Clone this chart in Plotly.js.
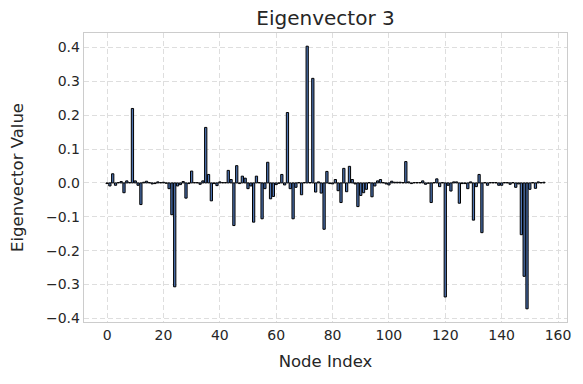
<!DOCTYPE html>
<html>
<head>
<meta charset="utf-8">
<script src="https://cdn.plot.ly/plotly-3.0.1.min.js"></script>
<style>
  html, body { margin: 0; padding: 0; background: #ffffff; }
  #chart { width: 583px; height: 384px; }
</style>
</head>
<body>
<div id="chart"></div>
<script>
// eigenvector 3 components, one per node
var eigValues = [
  -0.002, -0.009, 0.027, -0.007, 0.001, 0.004, -0.029, 0.006, 0.001, 0.220,
  0.006, -0.007, -0.064, 0.002, 0.005, 0.001, -0.003, -0.002, 0.003, 0.001,
  0.002, -0.001, -0.017, -0.094, -0.307, -0.009, -0.005, 0.004, -0.045, -0.002,
  0.035, 0.001, 0.001, -0.004, 0.006, 0.164, 0.025, -0.053, -0.002, -0.008,
  0.003, 0.001, 0.001, 0.037, 0.010, -0.126, 0.051, -0.002, 0.020, 0.014,
  -0.017, -0.009, -0.116, 0.020, 0.001, -0.106, -0.017, 0.061, -0.047, -0.040,
  -0.005, -0.001, 0.025, -0.006, 0.208, -0.017, -0.106, -0.013, 0.001, -0.035,
  0.001, 0.404, 0.001, 0.309, -0.027, 0.003, -0.030, -0.137, 0.034, -0.002,
  -0.003, 0.010, -0.023, -0.058, 0.043, -0.026, 0.049, 0.010, -0.003, -0.070,
  -0.037, -0.029, -0.019, 0.001, -0.041, -0.009, 0.006, 0.010, 0.001, -0.003,
  -0.006, 0.005, 0.002, 0.002, 0.002, 0.001, 0.063, 0.003, -0.002, 0.001,
  0.001, 0.001, 0.006, -0.004, -0.001, -0.058, 0.001, 0.012, -0.011, 0.001,
  -0.337, -0.007, -0.024, 0.003, 0.003, -0.060, -0.002, -0.002, -0.017, 0.003,
  -0.110, -0.011, 0.025, -0.147, 0.001, -0.007, 0.001, 0.001, 0.001, -0.007,
  -0.007, 0.001, 0.001, -0.004, 0.001, -0.013, -0.003, -0.153, -0.276, -0.372,
  -0.019, 0.001, -0.016, 0.003, 0.001, 0.002
];
var nodeIndex = eigValues.map(function (v, i) { return i; });

var xTicks = [0, 20, 40, 60, 80, 100, 120, 140, 160];
var yTicks = [-0.4, -0.3, -0.2, -0.1, 0.0, 0.1, 0.2, 0.3, 0.4];
var yTickText = ['\u22120.4', '\u22120.3', '\u22120.2', '\u22120.1', '0.0', '0.1', '0.2', '0.3', '0.4'];

var trace = {
  type: 'bar',
  x: nodeIndex,
  y: eigValues,
  width: 0.8,
  marker: {
    color: '#4c72b0',
    line: { color: '#000000', width: 1 }
  },
  hoverinfo: 'skip'
};

var font = 'DejaVu Sans, sans-serif';

var layout = {
  width: 583,
  height: 384,
  margin: { l: 84, r: 16, t: 33, b: 62 },
  paper_bgcolor: '#ffffff',
  plot_bgcolor: '#ffffff',
  showlegend: false,
  font: { family: font, color: '#262626' },
  title: {
    text: 'Eigenvector 3',
    font: { family: font, size: 20, color: '#262626' },
    x: 0.5, xref: 'paper', xanchor: 'center',
    y: 1 - 18 / 384, yref: 'container', yanchor: 'middle'
  },
  xaxis: {
    range: [-8.19, 163.19],
    tickvals: xTicks,
    ticks: '',
    tickfont: { family: font, size: 14, color: '#262626' },
    showgrid: true,
    gridcolor: '#dedede',
    gridwidth: 1,
    griddash: '5px,3px',
    zeroline: false,
    showline: true,
    mirror: true,
    linecolor: '#cccccc',
    linewidth: 1.25,
    title: { text: 'Node Index', font: { family: font, size: 16.5, color: '#262626' }, standoff: 13 }
  },
  yaxis: {
    range: [-0.411, 0.443],
    tickvals: yTicks,
    ticktext: yTickText,
    ticks: '',
    tickfont: { family: font, size: 14, color: '#262626' },
    showgrid: true,
    gridcolor: '#dedede',
    gridwidth: 1,
    griddash: '5px,3px',
    zeroline: false,
    showline: true,
    mirror: true,
    linecolor: '#cccccc',
    linewidth: 1.25,
    title: { text: 'Eigenvector Value', font: { family: font, size: 16.5, color: '#262626' }, standoff: 18 }
  },
  hovermode: false
};

Plotly.newPlot('chart', [trace], layout, { displayModeBar: false, staticPlot: true });
</script>
</body>
</html>
